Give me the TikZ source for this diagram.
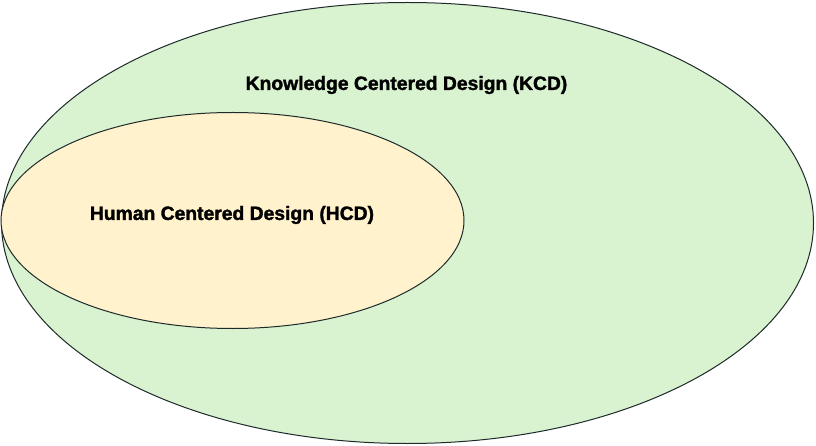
\documentclass[tikz,border=0pt]{standalone}
\usepackage{fontspec}
\usetikzlibrary{shapes.geometric}
\setmainfont{Liberation Sans}
\definecolor{kcdfill}{HTML}{D9F2D0}
\definecolor{hcdfill}{HTML}{FFF2CC}
\definecolor{edge}{HTML}{1E2A2A}
\begin{document}
\begin{tikzpicture}[x=1pt,y=1pt,
  region/.style={draw=edge, line width=1pt, ellipse, inner sep=0pt},
  lbl/.style={font=\fontsize{19.3}{22}\selectfont\bfseries\addfontfeatures{FakeBold=1.6}, text=black, inner sep=0pt}]
\useasboundingbox (0,0) rectangle (816,-446);
\node[region, fill=kcdfill, minimum width=812pt, minimum height=441pt] (kcd) at (407.5,-223) {};
\node[region, fill=hcdfill, minimum width=463pt, minimum height=216pt] (hcd) at (232.5,-220.5) {};
\node[lbl] (kcdlabel) at (406.5,-85) {Knowledge Centered Design (KCD)};
\node[lbl] (hcdlabel) at (232,-215) {Human Centered Design (HCD)};
\end{tikzpicture}
\end{document}
